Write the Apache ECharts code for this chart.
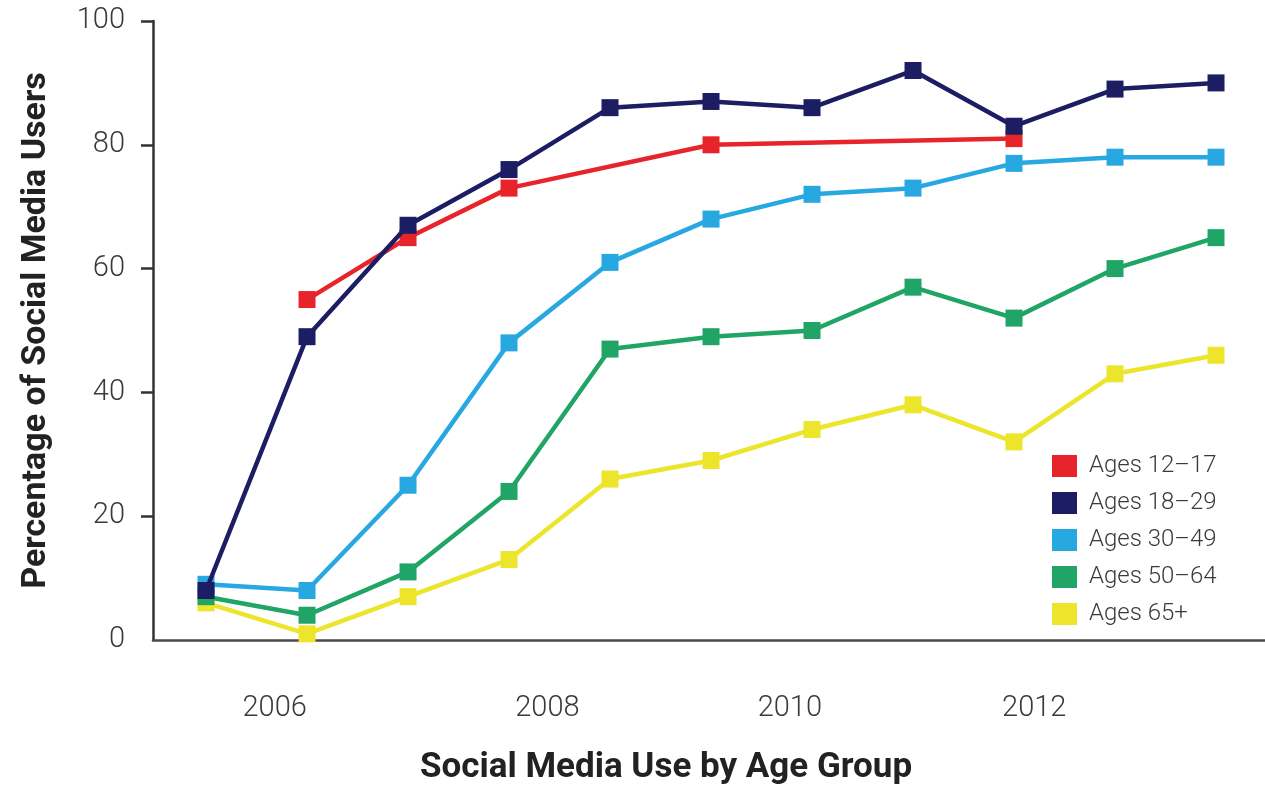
<!DOCTYPE html>
<html>
<head>
<meta charset="utf-8">
<title>Social Media Use by Age Group</title>
<script src="https://cdn.jsdelivr.net/npm/echarts@6/dist/echarts.min.js"></script>
<style>
  html, body { margin: 0; padding: 0; background: #ffffff; }
  #chart { width: 1265px; height: 787px; }
</style>
</head>
<body>
<div id="chart"></div>
<script>
// Survey rounds, in order, along the horizontal axis
const surveyRounds = [0, 1, 2, 3, 4, 5, 6, 7, 8, 9, 10];

// Percentage of each age group using social media, per survey round
const ages12to17 = [null, 55, 65, 73, null, 80, null, null, 81, null, null];
const ages18to29 = [8, 49, 67, 76, 86, 87, 86, 92, 83, 89, 90];
const ages30to49 = [9, 8, 25, 48, 61, 68, 72, 73, 77, 78, 78];
const ages50to64 = [7, 4, 11, 24, 47, 49, 50, 57, 52, 60, 65];
const ages65plus = [6, 1, 7, 13, 26, 29, 34, 38, 32, 43, 46];

// Year labels and where they sit on the survey-round scale
const yearLabels = ['2006', '2008', '2010', '2012'];
const yearLabelAt = [0.68, 3.38, 5.78, 8.2];

// Percentage axis ticks
const pctTicks = [20, 40, 60, 80, 100];

const groups = [
  { name: 'Ages 12\u201317', values: ages12to17, color: '#e8242b', z: 5 },
  { name: 'Ages 18\u201329', values: ages18to29, color: '#1d1d63', z: 6 },
  { name: 'Ages 30\u201349', values: ages30to49, color: '#27a8e0', z: 4 },
  { name: 'Ages 50\u201364', values: ages50to64, color: '#20a567', z: 3 },
  { name: 'Ages 65+',      values: ages65plus, color: '#ece52b', z: 2 }
];

const chart = echarts.init(document.getElementById('chart'), null, { renderer: 'canvas' });

const labelFont = { fontFamily: 'Roboto', fontWeight: 300, color: '#3a3a3a' };

chart.setOption({
  animation: false,
  backgroundColor: '#ffffff',
  grid: { left: 153, right: 0, top: 21, bottom: 147 },
  legend: {
    orient: 'vertical',
    left: 1047,
    top: 449,
    icon: 'rect',
    itemWidth: 25,
    itemHeight: 22,
    itemGap: 13,
    selectedMode: false,
    textStyle: Object.assign({ fontSize: 24, lineHeight: 22, padding: [0, 0, 0, 7] }, labelFont),
    data: groups.map(g => g.name)
  },
  xAxis: {
    type: 'value',
    min: -0.525,
    max: 10.485,
    splitLine: { show: false },
    axisTick: { show: false },
    axisLine: { show: true, onZero: false, lineStyle: { color: '#4a4a4a', width: 2.5 } },
    axisLabel: Object.assign({
      fontSize: 29,
      margin: 54,
      customValues: yearLabelAt,
      formatter: v => {
        const i = yearLabelAt.findIndex(p => Math.abs(p - v) < 1e-6);
        return i >= 0 ? yearLabels[i] : '';
      }
    }, labelFont)
  },
  yAxis: {
    type: 'value',
    min: 0,
    max: 100,
    interval: 20,
    splitLine: { show: false },
    axisLine: { show: true, onZero: false, lineStyle: { color: '#333333', width: 2.5 } },
    axisTick: { show: true, length: 12, customValues: pctTicks, lineStyle: { color: '#333333', width: 2.5 } },
    axisLabel: Object.assign({ fontSize: 29, margin: 28 }, labelFont),
    name: 'Percentage of Social Media Users',
    nameLocation: 'middle',
    nameRotate: 90,
    nameGap: 100,
    nameTextStyle: { fontFamily: 'Roboto', fontWeight: 'bold', fontSize: 34, color: '#222222' }
  },
  graphic: [{
    type: 'text',
    x: 666,
    y: 768,
    style: {
      text: 'Social Media Use by Age Group',
      align: 'center',
      verticalAlign: 'middle',
      fontFamily: 'Roboto',
      fontWeight: 'bold',
      fontSize: 35,
      fill: '#222222'
    }
  }],
  series: groups.map(g => ({
    name: g.name,
    type: 'line',
    z: g.z,
    connectNulls: true,
    symbol: 'rect',
    symbolSize: 17,
    showAllSymbol: true,
    lineStyle: { color: g.color, width: 4.5 },
    itemStyle: { color: g.color },
    emphasis: { disabled: true },
    data: surveyRounds.map((r, i) => [r, g.values[i]])
  }))
});
</script>
</body>
</html>
